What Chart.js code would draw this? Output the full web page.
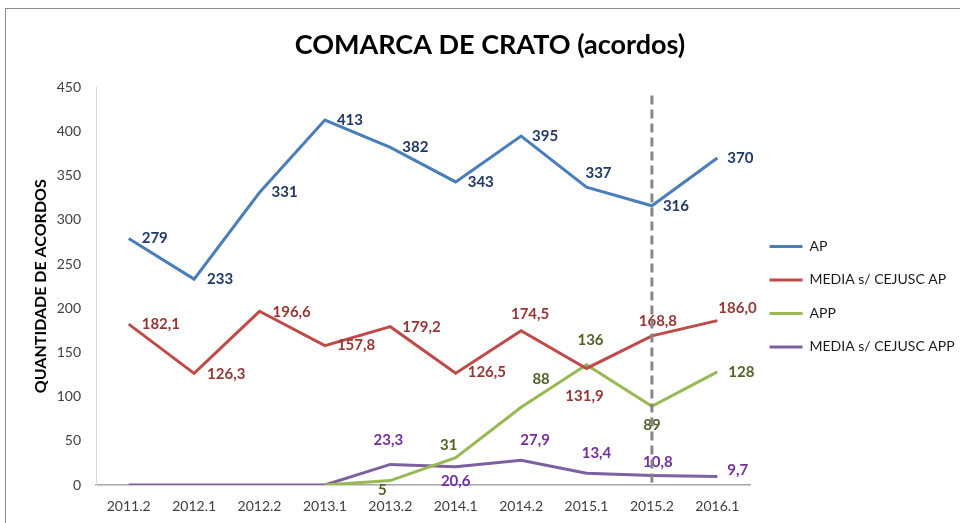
<!DOCTYPE html>
<html>
<head>
<meta charset="utf-8">
<script src="https://cdn.jsdelivr.net/npm/chart.js@4.4.1/dist/chart.umd.min.js"></script>
<style>
    html, body { margin: 0; padding: 0; background: #fff; }
    #wrap { position: relative; width: 960px; height: 523px; overflow: hidden; }
    #frame { position: absolute; left: 5px; top: 8px; right: -10px; bottom: -10px;
             border-left: 1.5px solid #8c8c8c; border-top: 1.5px solid #8c8c8c; pointer-events: none; }
</style>
</head>
<body>
<div id="wrap">
    <canvas id="chartCrato" width="960" height="523"></canvas>
    <div id="frame"></div>
</div>
<script>
// values
const categories = ['2011.2', '2012.1', '2012.2', '2013.1', '2013.2', '2014.1', '2014.2', '2015.1', '2015.2', '2016.1'];
const apValues = [279, 233, 331, 413, 382, 343, 395, 337, 316, 370];
const mediaApValues = [182.1, 126.3, 196.6, 157.8, 179.2, 126.5, 174.5, 131.9, 168.8, 186.0];
const appValues = [null, null, null, 0, 5, 31, 88, 136, 89, 128];
const mediaAppValues = [0, 0, 0, 0, 23.3, 20.6, 27.9, 13.4, 10.8, 9.7];
const yTicks = { min: 0, max: 450, step: 50 };
const markerCategory = '2015.2';

const FONT = 'Lato, "Open Sans", sans-serif';

// label placement around each point: [dx, dy, align]  ('l' = text starts at dx, 'c' = centred on dx)
const labelOffsets = [
    [[13,0,'l'],[13,0,'l'],[12,0,'l'],[12,0,'l'],[12,0,'l'],[12,0,'l'],[11,0,'l'],[12,-14,'c'],[11,0,'l'],[10,0,'l']],
    [[13,0,'l'],[13,1,'l'],[13,1,'l'],[12,0,'l'],[12,0,'l'],[12,-1,'l'],[9,-17,'c'],[-2,28,'c'],[6,-15,'c'],[1,-13,'l']],
    [null,null,null,null,[-8,10,'c'],[-7,-12,'c'],[20,-28,'c'],[4,-25,'c'],[0,19,'c'],[11,0,'l']],
    [null,null,null,null,[-2,-24,'c'],[0,14,'c'],[14,-20,'c'],[10,-20,'c'],[6,-13,'c'],[10,-6,'l']]
];

// draws the value labels next to the points
const pointLabels = {
    id: 'pointLabels',
    afterDatasetsDraw(chart) {
        const ctx = chart.ctx;
        ctx.save();
        ctx.font = 'bold 15px ' + FONT;
        ctx.textBaseline = 'middle';
        chart.data.datasets.forEach((ds, di) => {
            const meta = chart.getDatasetMeta(di);
            ds.data.forEach((v, i) => {
                if (v === null || v === 0) return;
                const off = labelOffsets[di][i];
                if (!off) return;
                const pt = meta.data[i];
                const text = v.toFixed(ds.decimals).replace('.', ',');
                ctx.fillStyle = ds.labelColor;
                ctx.textAlign = off[2] === 'c' ? 'center' : 'left';
                ctx.fillText(text, pt.x + off[0], pt.y + off[1]);
            });
        });
        ctx.restore();
    }
};

// dashed vertical marker on one category
const markerLine = {
    id: 'markerLine',
    afterDraw(chart) {
        const ctx = chart.ctx;
        const x = chart.scales.x.getPixelForValue(categories.indexOf(markerCategory));
        const area = chart.chartArea;
        ctx.save();
        ctx.strokeStyle = '#868686';
        ctx.lineWidth = 3;
        ctx.setLineDash([9, 5]);
        ctx.beginPath();
        ctx.moveTo(x, area.top + 8);
        ctx.lineTo(x, area.bottom);
        ctx.stroke();
        ctx.restore();
    }
};

function line(label, data, color, labelColor, decimals) {
    return {
        label: label,
        data: data,
        borderColor: color,
        backgroundColor: color,
        borderWidth: 3,
        pointRadius: 0,
        tension: 0,
        labelColor: labelColor,
        decimals: decimals
    };
}

new Chart(document.getElementById('chartCrato').getContext('2d'), {
    type: 'line',
    data: {
        labels: categories,
        datasets: [
            line('AP', apValues, '#4A7EBB', '#1F3864', 0),
            line('MEDIA s/ CEJUSC AP', mediaApValues, '#BE4B48', '#953735', 1),
            line('APP', appValues, '#98B954', '#4F6228', 0),
            line('MEDIA s/ CEJUSC APP', mediaAppValues, '#7D60A0', '#7030A0', 1)
        ]
    },
    options: {
        responsive: false,
        animation: false,
        layout: { padding: { left: 20, right: 0, top: 0, bottom: 8 } },
        plugins: {
            title: {
                display: true,
                text: 'COMARCA DE CRATO (acordos)',
                color: '#000',
                font: { family: FONT, size: 27, weight: 'bold' },
                padding: { top: 29, bottom: 26 }
            },
            legend: {
                position: 'right',
                maxWidth: 210,
                title: {
                    display: true,
                    text: ' ',
                    font: { family: FONT, size: 12 },
                    padding: { top: 64, bottom: 0 }
                },
                labels: {
                    usePointStyle: true,
                    pointStyle: 'line',
                    pointStyleWidth: 33,
                    boxHeight: 3,
                    padding: 19.5,
                    color: '#1a1a1a',
                    font: { family: FONT, size: 14 }
                }
            },
            tooltip: { enabled: false }
        },
        scales: {
            x: {
                offset: true,
                grid: { display: false, drawTicks: false },
                border: { color: '#a6a6a6', width: 1.5 },
                ticks: { color: '#404040', padding: 13, font: { family: FONT, size: 14 }, maxRotation: 0 },
                afterFit(scale) { scale.height = 30; }
            },
            y: {
                min: yTicks.min,
                max: yTicks.max,
                grid: { display: false, drawTicks: false },
                border: { color: '#d9d9d9' },
                ticks: { stepSize: yTicks.step, color: '#404040', padding: 15, font: { family: FONT, size: 14 } },
                title: {
                    display: true,
                    text: 'QUANTIDADE DE ACORDOS',
                    color: '#000',
                    font: { family: FONT, size: 16, weight: 'bold' },
                    padding: { top: 11, bottom: 0 }
                },
                afterFit(scale) { scale.width = 76; }
            }
        }
    },
    plugins: [pointLabels, markerLine]
});
</script>
</body>
</html>
